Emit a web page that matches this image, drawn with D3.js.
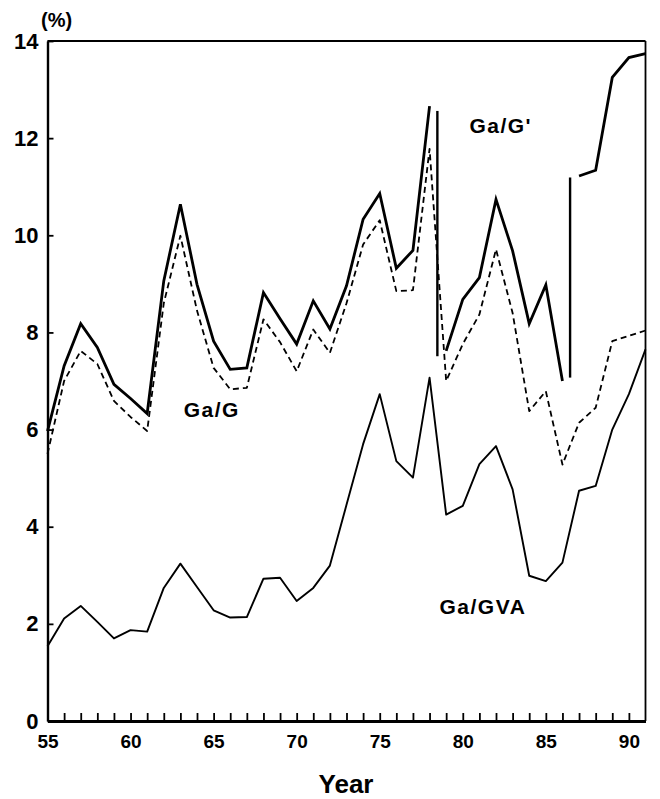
<!DOCTYPE html>
<html>
<head>
<meta charset="utf-8">
<script src="https://cdn.jsdelivr.net/npm/d3@7"></script>
<style>
  html, body { margin: 0; padding: 0; background: #fff; }
  svg { display: block; }
  text { font-family: "Liberation Sans", Arial, Helvetica, sans-serif; font-weight: bold; fill: #000; }
</style>
</head>
<body>
<svg id="chart" width="660" height="799"></svg>
<script>
// ---------------- DATA ----------------
const years = d3.range(55, 92); // 55 .. 91

// Ga/G' (thick solid line), three segments separated by definitional breaks
const gaGpSegA = [5.97, 7.31, 8.18, 7.69, 6.93, 6.64, 6.33, 9.06, 10.64, 8.99, 7.82, 7.24, 7.27,
                  8.82, 8.28, 7.76, 8.65, 8.07, 8.96, 10.33, 10.86, 9.32, 9.69, 12.66]; // 55-78
const gaGpSegB = [7.62, 8.68, 9.13, 10.74, 9.68, 8.18, 8.98, 7.00];                 // 79-86
const gaGpSegC = [11.22, 11.34, 13.25, 13.66, 13.74];                              // 87-91
const segStartYears = [55, 79, 87];

// Break markers (vertical lines): year position, top value, bottom value
const breakYears = [78.47, 86.46];
const breakTop = [12.56, 11.19];
const breakBottom = [7.51, 7.07];

// Ga/G (dashed line)
const gaG = [5.50, 7.00, 7.62, 7.35, 6.59, 6.26, 5.97, 8.60, 9.99, 8.45, 7.27, 6.83, 6.86,
             8.27, 7.80, 7.20, 8.06, 7.58, 8.60, 9.81, 10.31, 8.85, 8.87, 11.78,
             7.00, 7.76, 8.37, 9.71, 8.40, 6.38, 6.79, 5.28, 6.14, 6.45, 7.82, 7.93, 8.04];

// Ga/GVA (thin solid line)
const gaGVA = [1.54, 2.11, 2.37, 2.04, 1.70, 1.87, 1.84, 2.74, 3.24, 2.76, 2.28, 2.13, 2.14,
               2.93, 2.95, 2.47, 2.74, 3.20, 4.45, 5.70, 6.73, 5.35, 5.01, 7.07,
               4.25, 4.43, 5.29, 5.66, 4.77, 2.99, 2.88, 3.26, 4.74, 4.84, 6.00, 6.73, 7.65];

const yTicks = [0, 2, 4, 6, 8, 10, 12, 14];
const xLabelTicks = [55, 60, 65, 70, 75, 80, 85, 90];
const xMinorTicks = d3.range(56, 91);

// label anchor (left edge year, baseline value)
const seriesLabels = [
  { text: "Ga/G'", year: 80.4, value: 12.1 },
  { text: "Ga/G", year: 63.2, value: 6.25 },
  { text: "Ga/GVA", year: 78.6, value: 2.2 }
];

// ---------------- DRAW ----------------
const svg = d3.select("#chart");
const x = d3.scaleLinear().domain([55, 91]).range([47.5, 645.5]);
const y = d3.scaleLinear().domain([0, 14]).range([721, 41]);

// frame: top and right
svg.append("line").attr("x1", x(55)).attr("x2", x(91)).attr("y1", y(14)).attr("y2", y(14))
  .attr("stroke", "#000").attr("stroke-width", 1.8);
svg.append("line").attr("x1", x(91)).attr("x2", x(91)).attr("y1", y(14)).attr("y2", y(0))
  .attr("stroke", "#000").attr("stroke-width", 1.8);

// x minor ticks (inward)
const gxMinor = svg.append("g").attr("transform", `translate(0,${y(0)})`)
  .call(d3.axisBottom(x).tickValues(xMinorTicks).tickSizeInner(-8).tickSizeOuter(0).tickFormat(""));
gxMinor.select(".domain").remove();
gxMinor.selectAll(".tick line").attr("stroke", "#000").attr("stroke-width", 1.8);

// x labels + bottom axis line
const gx = svg.append("g").attr("transform", `translate(0,${y(0)})`)
  .call(d3.axisBottom(x).tickValues(xLabelTicks).tickSize(0).tickPadding(14).tickFormat(d3.format("d")));
gx.select(".domain").attr("stroke", "#000").attr("stroke-width", 3);
gx.selectAll(".tick text").style("font-size", "19px").style("font-family", "'Liberation Sans', Arial, sans-serif").style("font-weight", "bold");

// y axis
const gy = svg.append("g").attr("transform", `translate(${x(55)},0)`)
  .call(d3.axisLeft(y).tickValues(yTicks).tickSizeInner(-6).tickSizeOuter(0).tickPadding(9).tickFormat(d3.format("d")));
gy.select(".domain").attr("stroke", "#000").attr("stroke-width", 2.4);
gy.selectAll(".tick line").attr("stroke", "#000").attr("stroke-width", 1.8);
gy.selectAll(".tick text").style("font-size", "22px").style("font-family", "'Liberation Sans', Arial, sans-serif").style("font-weight", "bold");

// lines
const line = d3.line().x(d => x(d[0])).y(d => y(d[1]));

// Ga/GVA
svg.append("path").datum(years.map((yr, i) => [yr, gaGVA[i]]))
  .attr("d", line).attr("fill", "none").attr("stroke", "#000").attr("stroke-width", 1.9)
  .attr("stroke-linejoin", "round");

// Ga/G dashed
svg.append("path").datum(years.map((yr, i) => [yr, gaG[i]]))
  .attr("d", line).attr("fill", "none").attr("stroke", "#000").attr("stroke-width", 1.8)
  .attr("stroke-dasharray", "6,4").attr("stroke-linejoin", "round");

// Ga/G' thick segments
[gaGpSegA, gaGpSegB, gaGpSegC].forEach((seg, k) => {
  svg.append("path").datum(seg.map((v, i) => [segStartYears[k] + i, v]))
    .attr("d", line).attr("fill", "none").attr("stroke", "#000").attr("stroke-width", 2.8)
    .attr("stroke-linejoin", "miter");
});

// break markers
breakYears.forEach((yr, i) => {
  svg.append("line").attr("x1", x(yr)).attr("x2", x(yr))
    .attr("y1", y(breakTop[i])).attr("y2", y(breakBottom[i]))
    .attr("stroke", "#000").attr("stroke-width", 2.4);
});

// series labels
seriesLabels.forEach(l => {
  svg.append("text").attr("x", x(l.year)).attr("y", y(l.value))
    .attr("text-anchor", "start").style("font-size", "21px").style("letter-spacing", "1.5px")
    .text(l.text);
});

// unit label and axis title
svg.append("text").attr("x", 41).attr("y", 27).style("font-size", "20px").text("(%)");
svg.append("text").attr("x", 346).attr("y", 793).attr("text-anchor", "middle")
  .style("font-size", "26px").text("Year");
</script>
</body>
</html>
